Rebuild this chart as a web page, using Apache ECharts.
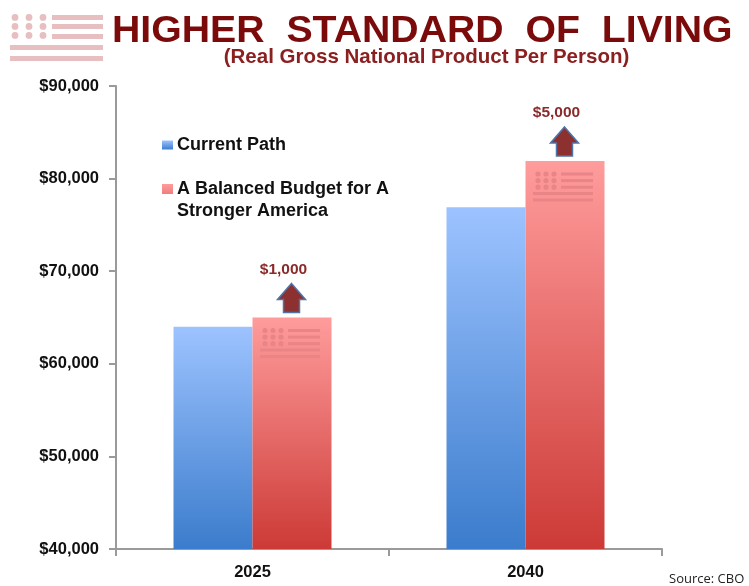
<!DOCTYPE html>
<html><head><meta charset="utf-8">
<style>html,body{margin:0;padding:0;background:#fff}#c{width:749px;height:586px}</style>
<script src="https://cdn.jsdelivr.net/npm/echarts@6/dist/echarts.min.js"></script>
</head><body><div id="c"></div>
<script>
const categories = ['2025', '2040'];
const currentPath = [64000, 76900];
const balancedBudget = [65000, 81900];
const increaseLabels = ['$1,000', '$5,000'];
const seriesNames = ['Current Path', 'A Balanced Budget for A\nStronger America'];
const FONT = '"Liberation Sans", Arial, sans-serif';
const grad = (a, b) => new echarts.graphic.LinearGradient(0, 0, 0, 1, [{offset: 0, color: a}, {offset: 1, color: b}]);
const blue = grad('#9DC3FF', '#3B7CCC');
const red = grad('#FF9C9C', '#CC3A36');
const BAR = 79;
const WM = '#E98587';
const AXIS = '#9A9A9A';

function flagShapes(x0, y0, color) {
  const out = [];
  [0, 1, 2].forEach(r => [0, 1, 2].forEach(c => out.push({type: 'circle',
    shape: {cx: x0 + 13 + c * 8, cy: y0 + 13 + r * 6.6, r: 2.6}, style: {fill: color}})));
  [13, 19.6, 26.2].forEach(y => out.push({type: 'rect',
    shape: {x: x0 + 36, y: y0 + y - 1.5, width: 32, height: 3}, style: {fill: color}}));
  [32.4, 39].forEach(y => out.push({type: 'rect',
    shape: {x: x0 + 8, y: y0 + y - 1.5, width: 60, height: 3}, style: {fill: color}}));
  return out;
}

function renderDecor(params, api) {
  const i = api.value(0);
  const p = api.coord([i, api.value(1)]);
  const cx = p[0] + BAR / 2 - 0.5, top = p[1];
  const a = top - 34, h = top - 18, b = top - 5;
  return {type: 'group', silent: true, children: [
    ...flagShapes(cx - BAR / 2, top, WM),
    {type: 'polygon', shape: {points: [[cx, a], [cx + 14, h], [cx + 8, h], [cx + 8, b], [cx - 8, b], [cx - 8, h], [cx - 14, h]]},
      style: {fill: '#8C3130', stroke: '#4F74A8', lineWidth: 1.5}},
    {type: 'text', style: {text: increaseLabels[i], x: cx - 8, y: top - 48, align: 'center', verticalAlign: 'middle',
      font: 'bold 15.5px ' + FONT, fill: '#8B2A2A'}}
  ]};
}

const legendIcon = 'path://M0 0H11V10H0Z M0 32H0.01V32.01H0Z';
const chart = echarts.init(document.getElementById('c'));
const option = {
  animation: false,
  backgroundColor: '#fff',
  title: [
    {text: '(Real Gross National Product Per Person)', left: 426.5, top: 47, padding: 0, textAlign: 'center',
      textStyle: {fontFamily: FONT, fontWeight: 'bold', fontSize: 20.5, color: '#8B2020'}},
    {text: 'Source: CBO', left: 669, top: 573, padding: 0,
      textStyle: {fontFamily: '"Open Sans", sans-serif', fontWeight: 'normal', fontSize: 13, color: '#222'}}
  ],
  legend: [
    {data: [{name: seriesNames[0], icon: 'rect'}], left: 162, top: 136, padding: 0, itemWidth: 11, itemHeight: 9, itemGap: 4,
      textStyle: {fontFamily: FONT, fontWeight: 'bold', fontSize: 18, color: '#111', padding: [0, 0, 0, -1]}},
    {data: [{name: seriesNames[1], icon: legendIcon}], left: 162, top: 178, padding: 0, itemWidth: 11, itemHeight: 32, itemGap: 4,
      textStyle: {fontFamily: FONT, fontWeight: 'bold', fontSize: 18, lineHeight: 22, color: '#111', padding: [0, 0, 0, -1]}}
  ],
  grid: {left: 116, right: 87, top: 86, bottom: 37},
  xAxis: {type: 'category', data: categories,
    axisLine: {lineStyle: {color: AXIS, width: 2}},
    axisTick: {show: true, alignWithLabel: false, length: 7, lineStyle: {color: AXIS, width: 2}},
    axisLabel: {fontFamily: FONT, fontWeight: 'bold', fontSize: 16.5, color: '#111', margin: 15}},
  yAxis: {type: 'value', min: 40000, max: 90000, interval: 10000,
    splitLine: {show: false},
    axisLine: {show: true, lineStyle: {color: AXIS, width: 2}},
    axisTick: {show: true, length: 7, lineStyle: {color: AXIS, width: 2}},
    axisLabel: {fontFamily: FONT, fontWeight: 'bold', fontSize: 16.5, color: '#111', margin: 17,
      formatter: v => '$' + v.toLocaleString('en-US')}},
  graphic: [
    {type: 'group', left: 10, top: 14, silent: true, children: [
      ...[[15, 17], [29, 17], [43, 17], [15, 26], [29, 26], [43, 26], [15, 35], [29, 35], [43, 35]].map(d =>
        ({type: 'circle', shape: {cx: d[0] - 10, cy: d[1] - 14, r: 3.4}, style: {fill: '#E8BFC0'}})),
      ...[3, 12, 22].map(y => ({type: 'rect', shape: {x: 42, y: y - 2.5, width: 51, height: 5}, style: {fill: '#E8BFC0'}})),
      ...[33, 44].map(y => ({type: 'rect', shape: {x: 0, y: y - 2.5, width: 93, height: 5}, style: {fill: '#E8BFC0'}}))
    ]},
    {type: 'text', x: 112, y: 14, scaleX: 1.09, silent: true,
      style: {text: 'HIGHER  STANDARD  OF  LIVING', font: 'bold 36px ' + FONT, fill: '#7B0A0A'}}
  ],
  series: [
    {name: seriesNames[0], type: 'bar', data: currentPath, barWidth: BAR, barGap: 0, itemStyle: {color: blue}},
    {name: seriesNames[1], type: 'bar', data: balancedBudget, barWidth: BAR, barGap: 0, itemStyle: {color: red}},
    {type: 'custom', data: categories.map((c, i) => [i, balancedBudget[i]]), renderItem: renderDecor,
      encode: {x: 0, y: 1}, z: 5, silent: true, clip: false}
  ]
};
chart.setOption(option);
</script></body></html>
